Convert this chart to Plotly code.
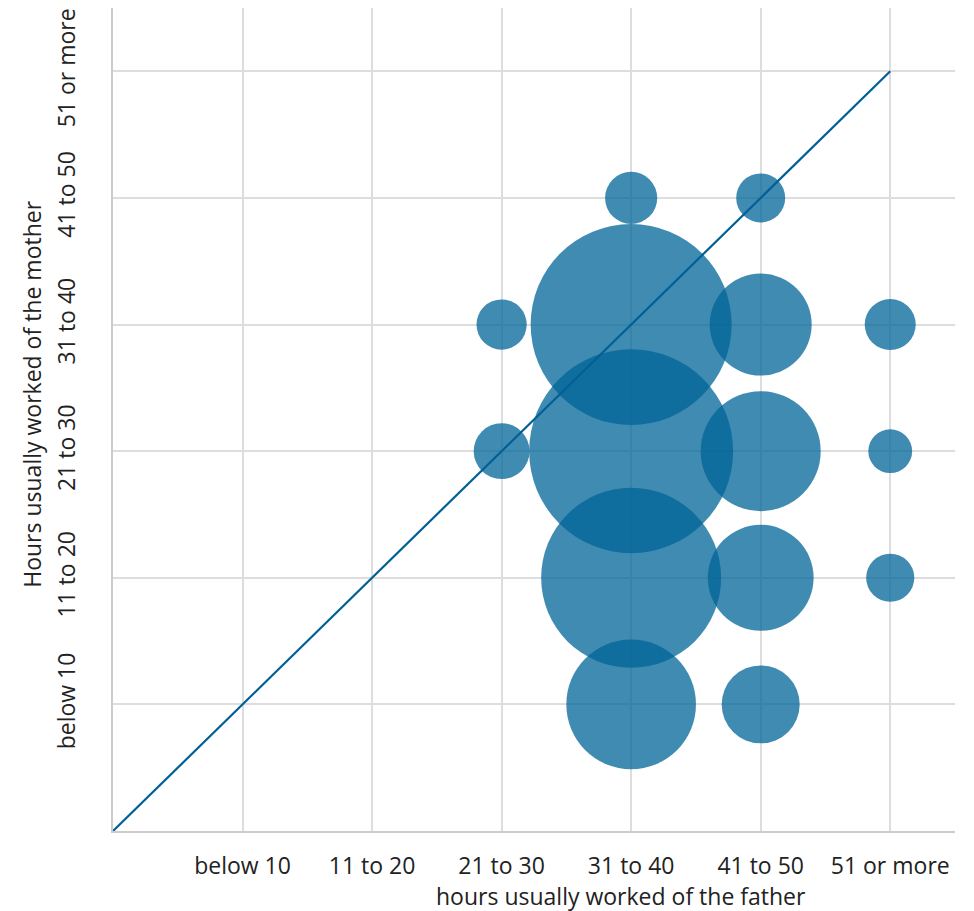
import numpy as np
import plotly.graph_objects as go

# Category labels (same for both axes)
categories = ["below 10", "11 to 20", "21 to 30", "31 to 40", "41 to 50", "51 or more"]

# Bubble data: father category index, mother category index, relative weight
father_idx = [4, 5, 3, 4, 5, 6, 3, 4, 5, 6, 4, 5, 6, 4, 5]
mother_idx = [5, 5, 4, 4, 4, 4, 3, 3, 3, 3, 2, 2, 2, 1, 1]
weights = [6.8, 6.0, 6.3, 101, 26, 6.5, 7.8, 104, 36, 4.8, 81, 28, 5.8, 42, 15.2]

# equality line endpoints (category index space)
diag_x = [0, 6]
diag_y = [0, 6]

x_title = "hours usually worked of the father"
y_title = "Hours usually worked of the mother"

FONT = "Open Sans"
TXT = "#222222"

diam = 20 * np.sqrt(np.array(weights))

fig = go.Figure()
fig.add_trace(go.Scatter(
    x=father_idx, y=mother_idx, mode="markers",
    marker=dict(size=diam, sizemode="diameter", color="rgb(0,100,152)",
                opacity=0.75, line=dict(width=0)),
    cliponaxis=False, hoverinfo="skip", showlegend=False,
))
fig.add_trace(go.Scatter(
    x=diag_x, y=diag_y, mode="lines",
    line=dict(color="rgb(0,96,150)", width=2.2),
    hoverinfo="skip", showlegend=False,
))

fig.update_layout(
    width=966, height=903,
    margin=dict(l=105, r=19, t=0, b=80),
    plot_bgcolor="white", paper_bgcolor="white",
    font=dict(family=FONT, size=23, color=TXT),
    xaxis=dict(
        range=[0, 6.5], tickvals=[1, 2, 3, 4, 5, 6], ticktext=categories,
        showgrid=True, gridcolor="#dddddd", gridwidth=2,
        showline=True, linecolor="#cccccc", linewidth=2,
        zeroline=False, ticks="", ticklabelstandoff=13, automargin=False,
    ),
    yaxis=dict(
        range=[0, 6.5], tickvals=[1, 2, 3, 4, 5, 6], ticktext=categories,
        showgrid=True, gridcolor="#dddddd", gridwidth=2,
        showline=True, linecolor="#cccccc", linewidth=2,
        zeroline=False, ticks="", tickangle=-90, ticklabelstandoff=27,
        automargin=False,
    ),
    annotations=[
        dict(text=x_title, xref="paper", yref="paper", x=0.603, y=0,
             xanchor="center", yanchor="middle", yshift=-65, showarrow=False,
             font=dict(size=23, color=TXT)),
        dict(text=y_title, xref="paper", yref="paper", x=0, y=0.53,
             xanchor="center", yanchor="middle", xshift=-81, textangle=-90,
             showarrow=False, font=dict(size=23, color=TXT)),
    ],
)

fig.write_html("out.html")
